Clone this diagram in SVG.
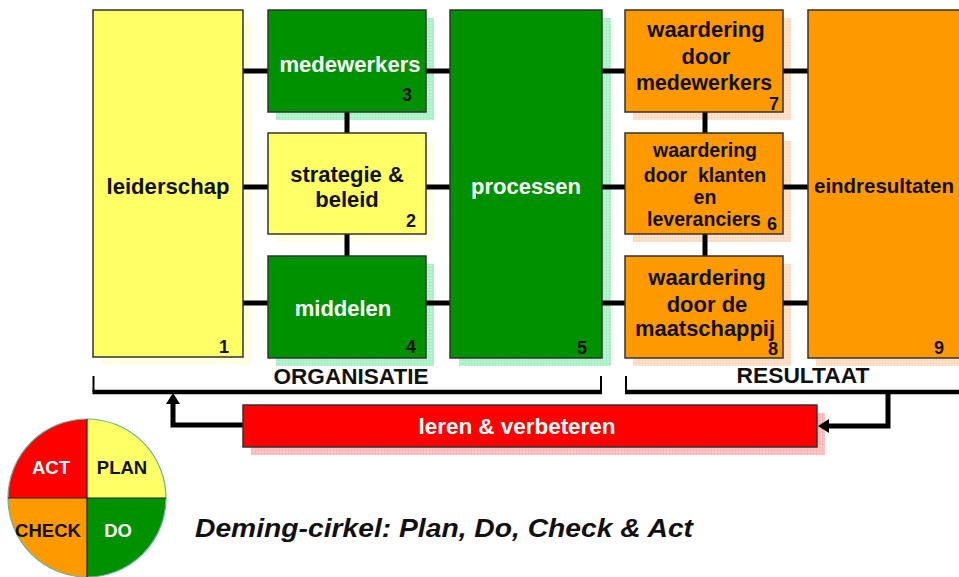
<svg xmlns="http://www.w3.org/2000/svg" width="959" height="577" viewBox="0 0 959 577">
<style>
  text { font-family: "Liberation Sans", Arial, sans-serif; font-weight: bold; }
  .box { stroke: #333; stroke-width: 1.5; }
  .yel { fill: #FFFF66; }
  .grn { fill: #009100; }
  .org { fill: #FF9900; }
  .red { fill: #FF0000; }
  .lbl { font-size: 22px; text-anchor: middle; fill: #111; }
  .wht { fill: #fff; }
  .num { font-size: 18px; text-anchor: middle; fill: #111; }
  .sm { font-size: 19.5px; text-anchor: middle; fill: #111; }
  .con { stroke: #000; stroke-width: 5; fill: none; }
  .brk { stroke: #000; fill: none; }
</style>
<defs>
  <pattern id="pg" width="3" height="3" patternUnits="userSpaceOnUse">
    <rect width="3" height="3" fill="#B8F5CF"/>
    <path d="M0 0.5H3M0.5 0V3" stroke="#9EEDBD" stroke-width="0.6"/>
  </pattern>
  <pattern id="po" width="3" height="3" patternUnits="userSpaceOnUse">
    <rect width="3" height="3" fill="#FFE3CC"/>
    <path d="M0 0.5H3M0.5 0V3" stroke="#FAD3B8" stroke-width="0.6"/>
  </pattern>
  <pattern id="pr" width="3" height="3" patternUnits="userSpaceOnUse">
    <rect width="3" height="3" fill="#FFC7C7"/>
    <path d="M0 0.5H3M0.5 0V3" stroke="#F5B0B0" stroke-width="0.6"/>
  </pattern>
</defs>

<g id="shadows">
  <rect x="101" y="18" width="150" height="347" fill="#FFFFE6"/>
  <rect x="276" y="18" width="158" height="102" fill="url(#pg)"/>
  <rect x="276" y="141" width="158" height="101" fill="#FFFFE6"/>
  <rect x="276" y="264" width="158" height="102" fill="url(#pg)"/>
  <rect x="459" y="18" width="152" height="348" fill="url(#pg)"/>
  <rect x="633" y="18" width="158" height="102" fill="url(#po)"/>
  <rect x="633" y="141" width="158" height="101" fill="url(#po)"/>
  <rect x="633" y="264" width="158" height="102" fill="url(#po)"/>
  <rect x="816" y="18" width="143" height="348" fill="url(#po)"/>
  <rect x="251" y="413" width="574" height="42" fill="url(#pr)"/>
</g>

<g id="connectors">
  <path class="con" d="M243 71H268M243 187H268M243 303H268"/>
  <path class="con" d="M426 71H450M426 187H450M426 303H450"/>
  <path class="con" d="M602 71H625M602 187H625M602 303H625"/>
  <path class="con" d="M783 71H808M783 187H808M783 303H808"/>
  <path class="con" d="M347 112V133M347 234V256"/>
  <path class="con" d="M705 112V133M705 234V256"/>
  <path class="brk" stroke-width="2" d="M93.5 376V392"/>
  <path class="brk" stroke-width="2" d="M601 376V392"/>
  <path class="brk" stroke-width="2" d="M626 376V392"/>
  <path class="brk" stroke-width="4.5" d="M92.5 392H602"/>
  <path class="brk" stroke-width="4.5" d="M625 392H959"/>
  <path class="con" d="M243 425H173V400" stroke-width="4.5"/>
  <path d="M166 404L173 393L180 404z" fill="#000"/>
  <path class="con" d="M888 392V426H826" stroke-width="4.5"/>
  <path d="M829 419L818 426L829 433z" fill="#000"/>
</g>

<g id="n1">
  <rect class="box yel" x="93" y="10" width="150" height="347"/>
  <text class="lbl" x="168" y="194" textLength="123" lengthAdjust="spacingAndGlyphs">leiderschap</text>
  <text class="num" x="224" y="353">1</text>
</g>
<g id="n3">
  <rect class="box grn" x="268" y="10" width="158" height="102"/>
  <text class="lbl wht" x="350" y="72" textLength="141" lengthAdjust="spacingAndGlyphs">medewerkers</text>
  <text class="num" x="407" y="101">3</text>
</g>
<g id="n2">
  <rect class="box yel" x="268" y="133" width="158" height="101"/>
  <text class="lbl" x="347" y="182">strategie &amp;</text>
  <text class="lbl" x="347" y="207">beleid</text>
  <text class="num" x="411" y="227">2</text>
</g>
<g id="n4">
  <rect class="box grn" x="268" y="256" width="158" height="102"/>
  <text class="lbl wht" x="343" y="316">middelen</text>
  <text class="num" x="411" y="353">4</text>
</g>
<g id="n5">
  <rect class="box grn" x="450" y="10" width="152" height="348"/>
  <text class="lbl wht" x="526" y="194">processen</text>
  <text class="num" x="582" y="354">5</text>
</g>
<g id="n7">
  <rect class="box org" x="625" y="10" width="158" height="102"/>
  <text class="lbl" x="706" y="37">waardering</text>
  <text class="lbl" x="706" y="64">door</text>
  <text class="lbl" x="704" y="90" textLength="136" lengthAdjust="spacingAndGlyphs">medewerkers</text>
  <text class="num" x="774" y="110">7</text>
</g>
<g id="n6">
  <rect class="box org" x="625" y="133" width="158" height="101"/>
  <text class="sm" x="705" y="157">waardering</text>
  <text class="sm" x="705" y="182" xml:space="preserve">door  klanten</text>
  <text class="sm" x="705" y="204">en</text>
  <text class="sm" x="704" y="226">leveranciers</text>
  <text class="num" x="772" y="230">6</text>
</g>
<g id="n8">
  <rect class="box org" x="625" y="256" width="158" height="102"/>
  <text class="lbl" x="707" y="285">waardering</text>
  <text class="lbl" x="707" y="312">door de</text>
  <text class="lbl" x="705" y="336" textLength="140" lengthAdjust="spacingAndGlyphs">maatschappij</text>
  <text class="num" x="773" y="355">8</text>
</g>
<g id="n9">
  <rect class="box org" x="808" y="10" width="160" height="348"/>
  <text x="814" y="193" font-size="21" fill="#111" textLength="140" lengthAdjust="spacingAndGlyphs">eindresultaten</text>
  <text class="num" x="939" y="354">9</text>
</g>
<g id="labels">
  <text class="lbl" x="351" y="384" textLength="155" lengthAdjust="spacingAndGlyphs">ORGANISATIE</text>
  <text class="lbl" x="803" y="383" textLength="133" lengthAdjust="spacingAndGlyphs">RESULTAAT</text>
</g>
<g id="n10">
  <rect class="box red" x="243" y="405" width="574" height="42"/>
  <text class="lbl wht" x="517" y="434" textLength="197" lengthAdjust="spacingAndGlyphs">leren &amp; verbeteren</text>
</g>
<g id="deming">
  <path d="M87 498V419A79 79 0 0 0 8 498Z" fill="#FF0000"/>
  <path d="M87 498V419A79 79 0 0 1 166 498Z" fill="#FFFF66"/>
  <path d="M87 498H8A79 79 0 0 0 87 577Z" fill="#FF9900"/>
  <path d="M87 498H166A79 79 0 0 1 87 577Z" fill="#009100"/>
  <circle cx="87" cy="498" r="79" fill="none" stroke="#66B3A0" stroke-width="1.2"/>
  <path d="M87 419V577M8 498H166" stroke="#222" stroke-width="1.2"/>
  <text x="51" y="474" font-size="18.5" text-anchor="middle" fill="#fff">ACT</text>
  <text x="122" y="474" font-size="18.5" text-anchor="middle" fill="#111">PLAN</text>
  <text x="48" y="537" font-size="18.5" text-anchor="middle" fill="#111">CHECK</text>
  <text x="118" y="537" font-size="18.5" text-anchor="middle" fill="#fff">DO</text>
</g>
<text x="195" y="537" font-size="26" font-style="italic" fill="#111" textLength="498" lengthAdjust="spacingAndGlyphs">Deming-cirkel: Plan, Do, Check &amp; Act</text>
</svg>
